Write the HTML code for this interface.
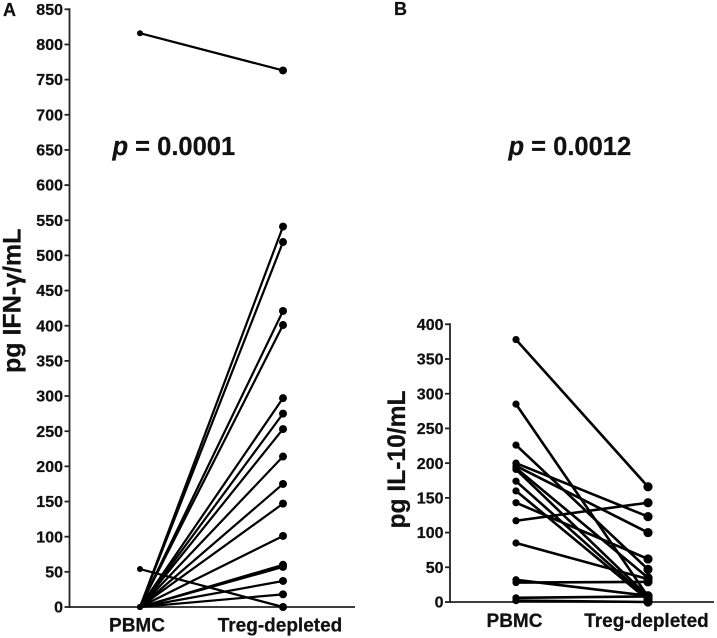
<!DOCTYPE html>
<html>
<head>
<meta charset="utf-8">
<style>
html,body{margin:0;padding:0;background:#fff;}
svg{display:block;}
text{font-family:"Liberation Sans",sans-serif;font-weight:bold;fill:#111;stroke:#111;stroke-width:0.25px;}
</style>
</head>
<body>
<svg id="chart" width="717" height="638" viewBox="0 0 717 638" xmlns="http://www.w3.org/2000/svg">
<text x="3" y="16" font-size="18">A</text>
<text x="394" y="15" font-size="18">B</text>
<text x="112.5" y="155" font-size="25.5"><tspan font-style="italic">p</tspan> = 0.0001</text>
<text x="508.5" y="155" font-size="25.5"><tspan font-style="italic">p</tspan> = 0.0012</text>
<text transform="translate(20.5,373) rotate(-90)" font-size="25">pg IFN-γ/mL</text>
<text transform="translate(405,528.5) rotate(-90)" font-size="24.6">pg IL-10/mL</text>
</svg>
<script>
var categories = ['PBMC', 'Treg-depleted'];
var ticksA = [0,50,100,150,200,250,300,350,400,450,500,550,600,650,700,750,800,850];
var ticksB = [0,50,100,150,200,250,300,350,400];
var pbmcA = [816,54,0,0,0,0,0,0,0,0,0,0,0,0,0,0,0];
var tregA = [763,0,541,519,421,401,297,275,253,214,175,147,101,60,57,37,18];
var pbmcB = [378,285,226,200,196,193,191,174,160,143,117,85,32,28,6,2];
var tregB = [166,8,47,123,100,35,8,5,3,62,143,33,9,29,8,0];

var svgNS = 'http://www.w3.org/2000/svg';
var root = document.getElementById('chart');

function make(tag, attrs, parent) {
  var el = document.createElementNS(svgNS, tag);
  for (var k in attrs) el.setAttribute(k, attrs[k]);
  parent.appendChild(el);
  return el;
}

function drawPanel(cfg, ticks, before, after) {
  var y = function (v) { return cfg.y0 - v * (cfg.y0 - cfg.yTop) / cfg.maxV; };
  var g = make('g', {}, root);
  
  

  var yAxis = make('line', {x1: cfg.ax, x2: cfg.ax, y1: y(cfg.maxV) - 1, y2: cfg.y0 + 1, stroke: '#222', 'stroke-width': 1.8}, g);
  
  
  var xAxis = make('line', {x1: cfg.ax, x2: cfg.axEnd, y1: cfg.y0, y2: cfg.y0, stroke: '#222', 'stroke-width': 1.8}, g);
  
  

  ticks.forEach(function (t) {
    var tk = make('line', {x1: cfg.ax - 5, x2: cfg.ax, y1: y(t), y2: y(t), stroke: '#222', 'stroke-width': 1.8}, g);
    
    
    var lb = make('text', {x: cfg.ax - 6.5, y: y(t) + 5.6, 'text-anchor': 'end', 'font-size': 16}, g);
    lb.textContent = t;
    
    
  });

  categories.forEach(function (c, i) {
    var lb = make('text', {x: i === 0 ? cfg.x1 + cfg.labelShift : cfg.x2 + cfg.labelShift, y: cfg.labelY, 'text-anchor': 'middle', 'font-size': 19}, g);
    lb.textContent = c;
    
    
  });

  before.forEach(function (v, i) {
    var ln = make('line', {x1: cfg.x1, y1: y(v), x2: cfg.x2, y2: y(after[i]), stroke: '#000', 'stroke-width': cfg.sw}, g);
    
    
  });
  before.forEach(function (v) {
    var d = make('circle', {cx: cfg.x1, cy: y(v), r: cfg.r1, fill: '#000'}, g);
    
    
  });
  after.forEach(function (v) {
    var d = make('circle', {cx: cfg.x2, cy: y(v), r: cfg.r2, fill: '#000'}, g);
    
    
  });
}

drawPanel({id: 'panel-a', ax: 69.5, axEnd: 355, y0: 607, yTop: 9.3, maxV: 850, x1: 140, x2: 283, labelY: 631.5, labelShift: -3, r1: 3, r2: 4, sw: 2.2}, ticksA, pbmcA, tregA);
drawPanel({id: 'panel-b', ax: 450, axEnd: 714, y0: 602, yTop: 324.3, maxV: 400, x1: 516, x2: 648, labelY: 627, labelShift: -1.5, r1: 3.6, r2: 4.6, sw: 2.6}, ticksB, pbmcB, tregB);
</script>
</body>
</html>
